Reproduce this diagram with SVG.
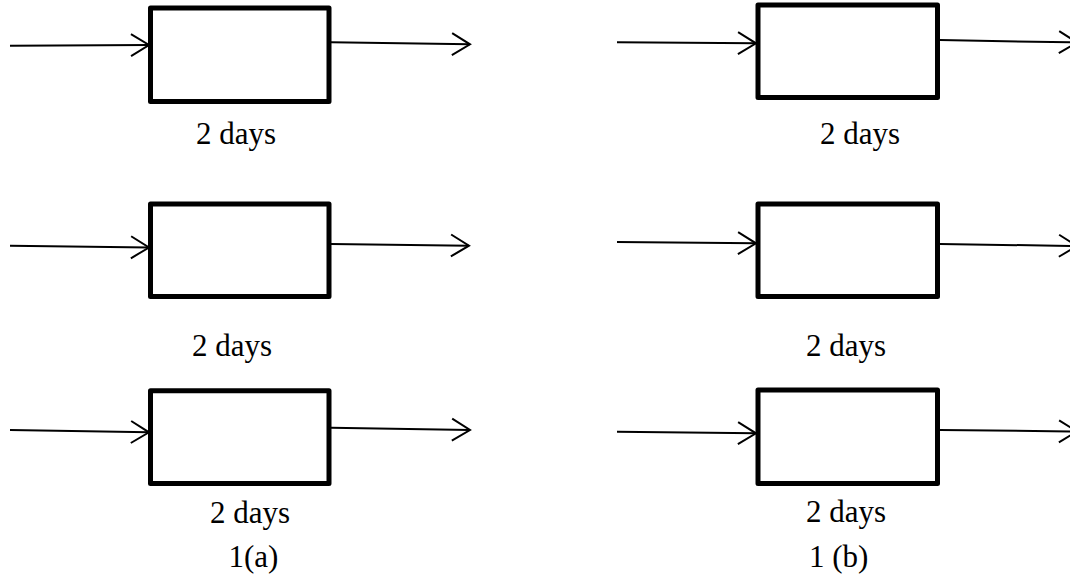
<svg xmlns="http://www.w3.org/2000/svg" width="1070" height="575" viewBox="0 0 1070 575">
  <style>
    .box { fill: #ffffff; stroke: #000000; stroke-width: 5; stroke-linejoin: round; }
    .flow { fill: none; stroke: #000000; stroke-width: 2; marker-end: url(#chevron); }
    .lbl { font-family: "Liberation Serif", "Times New Roman", serif; font-size: 31px; fill: #000000; }
  </style>
  <defs>
    <marker id="chevron" markerUnits="userSpaceOnUse" markerWidth="24" markerHeight="28" refX="19" refY="12" orient="auto" overflow="visible">
      <path d="M1,1 L19,12 L1,23" fill="none" stroke="#000000" stroke-width="2" stroke-linejoin="miter"/>
    </marker>
  </defs>
  <rect width="1070" height="575" fill="#ffffff"/>

  <!-- flow lines in and out of each activity -->
  <g id="connectors">
    <path class="flow" d="M10,45.7 L149,45"/>
    <path class="flow" d="M331,42.3 L470,44.3"/>
    <path class="flow" d="M10,245.7 L149,247.5"/>
    <path class="flow" d="M331,244 L469,245.7"/>
    <path class="flow" d="M10,430 L149,432.3"/>
    <path class="flow" d="M331,427.7 L470,430"/>

    <path class="flow" d="M617,42.3 L756,43.3"/>
    <path class="flow" d="M940,40 L1077,42.5"/>
    <path class="flow" d="M617,242 L756,243.3"/>
    <path class="flow" d="M940,244 L1077,246"/>
    <path class="flow" d="M617,431.7 L756,433.3"/>
    <path class="flow" d="M940,430 L1077,431.5"/>
  </g>

  <!-- column 1(a) -->
  <g id="a-top">
    <rect class="box" x="150.5" y="8" width="178.5" height="93.5"/>
    <text class="lbl" x="196" y="144">2 days</text>
  </g>
  <g id="a-mid">
    <rect class="box" x="150.5" y="204" width="178.5" height="92.5"/>
    <text class="lbl" x="192" y="356">2 days</text>
  </g>
  <g id="a-bot">
    <rect class="box" x="150.5" y="390.8" width="178.5" height="92.7"/>
    <text class="lbl" x="210" y="522.7">2 days</text>
  </g>
  <text id="caption-a" class="lbl" x="228.5" y="566.7">1(a)</text>

  <!-- column 1 (b) -->
  <g id="b-top">
    <rect class="box" x="758" y="5" width="179.5" height="92.5"/>
    <text class="lbl" x="820" y="144.3">2 days</text>
  </g>
  <g id="b-mid">
    <rect class="box" x="758" y="204" width="179.5" height="92.5"/>
    <text class="lbl" x="806" y="356">2 days</text>
  </g>
  <g id="b-bot">
    <rect class="box" x="758" y="390" width="179.5" height="93.5"/>
    <text class="lbl" x="806" y="521.7">2 days</text>
  </g>
  <text id="caption-b" class="lbl" x="809" y="566.7">1 (b)</text>
</svg>
